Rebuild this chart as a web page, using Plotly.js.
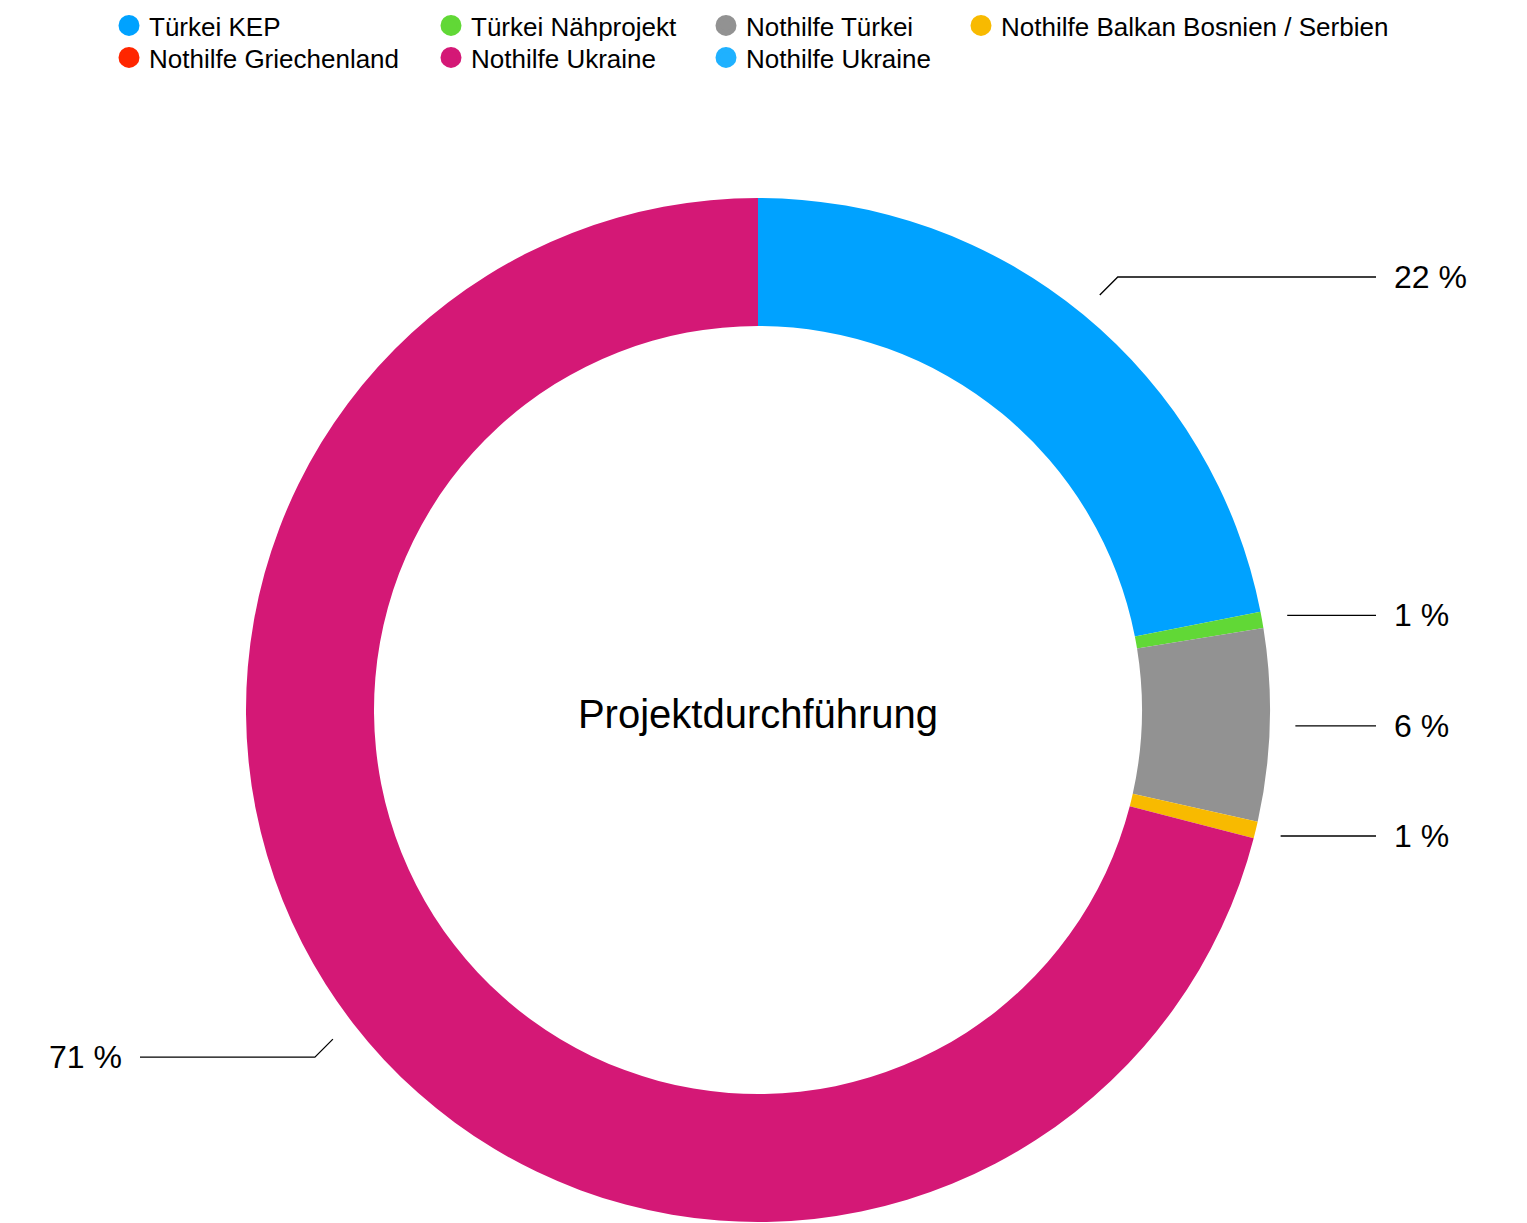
<!DOCTYPE html>
<html>
<head>
<meta charset="utf-8">
<script src="https://cdn.plot.ly/plotly-3.0.1.min.js"></script>
<style>html,body{margin:0;padding:0;background:#fff;}#chart{width:1527px;height:1223px;}</style>
</head>
<body>
<div id="chart"></div>
<script>
// ---- data ----
const categories = ["Türkei KEP", "Türkei Nähprojekt", "Nothilfe Türkei", "Nothilfe Balkan Bosnien / Serbien", "Nothilfe Griechenland", "Nothilfe Ukraine", "Nothilfe Ukraine"];
const shares = [21.93, 0.51, 6.06, 0.53, 0, 70.97, 0];
const colors = ["#00A2FF", "#61D836", "#929292", "#F8BA00", "#FF2600", "#D41876", "#1FB1FF"];
const centerTitle = "Projektdurchführung";
// legend grid position of each category (row-major, 4 columns)
const legendColumn = [0, 1, 2, 3, 0, 1, 2];
const legendRow = [0, 0, 0, 0, 1, 1, 1];

// ---- layout geometry (pixels) ----
const W = 1527, H = 1223;
const cx = 758, cy = 710, R = 512;
const FONT = "Liberation Sans, Arial, Helvetica, sans-serif";
const px2x = p => p / W;
const px2y = p => 1 - p / H;

// unique labels so identical names are not merged into one slice
const sliceLabels = categories.map((c, i) => c + "\u200b".repeat(i));
const total = shares.reduce((a, b) => a + b, 0);

const traces = [{
  type: "pie",
  labels: sliceLabels,
  values: shares,
  sort: false,
  direction: "clockwise",
  rotation: 0,
  hole: 0.75,
  marker: {colors: colors, line: {width: 0}},
  textinfo: "none",
  hoverinfo: "label+percent",
  showlegend: false,
  domain: {x: [px2x(cx - R), px2x(cx + R)], y: [px2y(cy + R), px2y(cy - R)]},
  title: {text: centerTitle, position: "middle center", font: {size: 40, color: "#000", family: FONT}}
}];

// legend entries: one legend per entry, laid out in the original grid
const legendLeft = [109, 431, 706, 961];   // px
const legendTop = [2, 34];                 // px
const layout = {
  width: W, height: H,
  margin: {l: 0, r: 0, t: 0, b: 0},
  paper_bgcolor: "#fff", plot_bgcolor: "#fff",
  font: {family: FONT, color: "#000"},
  xaxis: {visible: false}, yaxis: {visible: false},
  showlegend: true
};
categories.forEach((c, i) => {
  const ln = i === 0 ? "legend" : "legend" + (i + 1);
  traces.push({
    type: "scatter", mode: "markers", x: [null], y: [null],
    name: c, legend: ln,
    marker: {color: colors[i], size: 16, symbol: "circle", line: {color: colors[i], width: 5}},
    hoverinfo: "skip", showlegend: true
  });
  layout[ln] = {
    orientation: "v", xanchor: "left", yanchor: "top",
    x: px2x(legendLeft[legendColumn[i]]), y: px2y(legendTop[legendRow[i]]),
    font: {size: 26, color: "#000", family: FONT},
    bgcolor: "rgba(0,0,0,0)", borderwidth: 0
  };
});

// leader lines and percentage labels computed from the data
const shapes = [], annotations = [];
let cum = 0;
shares.forEach((v, i) => {
  const start = cum;
  cum += v;
  if (v <= 0) return;
  const mid = (start + v / 2) / total * 2 * Math.PI;
  const ux = Math.sin(mid), uy = -Math.cos(mid);
  const right = ux >= 0;
  const p1 = [cx + 1.05 * R * ux, cy + 1.05 * R * uy];
  let pts;
  if (Math.abs(uy) > 0.4) {
    const p2 = [p1[0] + (right ? 18 : -18), p1[1] + (uy < 0 ? -18 : 18)];
    pts = [p1, p2, [cx + (right ? 618 : -618), p2[1]]];
  } else {
    pts = [p1, [cx + (right ? 618 : -618), p1[1]]];
  }
  const end = pts[pts.length - 1];
  shapes.push({
    type: "path", xref: "paper", yref: "paper",
    path: pts.map((p, k) => (k ? "L" : "M") + px2x(p[0]) + "," + px2y(p[1])).join(" "),
    line: {color: "#000", width: 1.3}
  });
  annotations.push({
    xref: "paper", yref: "paper",
    x: px2x(end[0] + (right ? 16 : -16)), y: px2y(end[1]),
    xanchor: right ? "left" : "right", yanchor: "middle",
    text: Math.round(v / total * 100) + " %",
    showarrow: false, font: {size: 32, color: "#000", family: FONT}
  });
});
layout.shapes = shapes;
layout.annotations = annotations;

Plotly.newPlot("chart", traces, layout, {displayModeBar: false, staticPlot: true});
</script>
</body>
</html>
